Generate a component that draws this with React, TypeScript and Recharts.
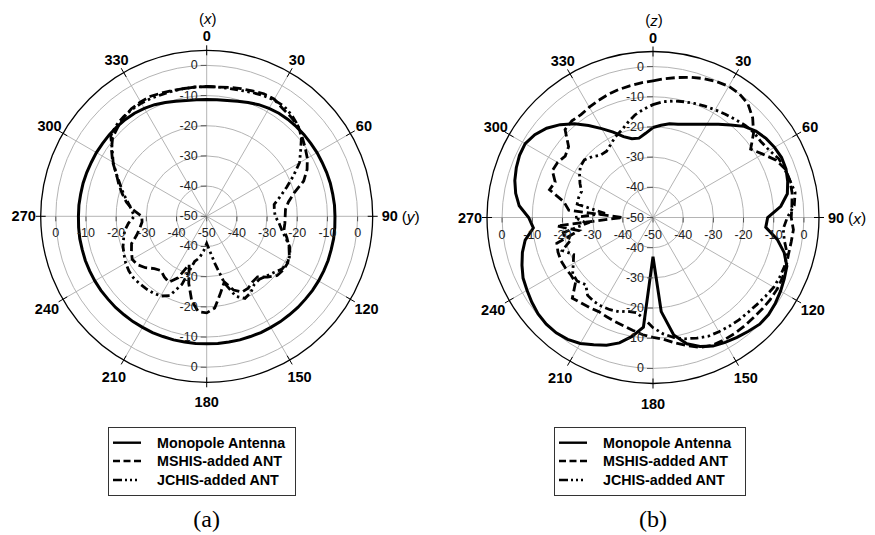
import React from 'react';
import { RadarChart, Radar, PolarGrid, PolarAngleAxis, PolarRadiusAxis, Legend } from 'recharts';

// Angle categories (degrees, clockwise from top)
const ANGLES = [
  0, 5, 10, 15, 20, 25, 30, 35, 40, 45, 50, 55,
  60, 65, 70, 75, 80, 85, 90, 95, 100, 105, 110, 115,
  120, 125, 130, 135, 140, 145, 150, 155, 160, 165, 170, 175,
  180, 185, 190, 195, 200, 205, 210, 215, 220, 225, 230, 235,
  240, 245, 250, 255, 260, 265, 270, 275, 280, 285, 290, 295,
  300, 305, 310, 315, 320, 325, 330, 335, 340, 345, 350, 355,
];

// (a) x-y plane
const A_MONO = [
  -11.3, -11.2, -11.0, -10.5, -9.9, -9.2, -8.7, -8.3, -8.1, -8.0, -7.9, -7.9,
  -7.8, -7.8, -7.7, -7.6, -7.6, -7.5, -7.5, -7.4, -7.3, -7.3, -7.2, -7.2,
  -7.2, -7.2, -7.3, -7.3, -7.4, -7.4, -7.5, -7.5, -7.6, -7.6, -7.7, -7.7,
  -7.8, -7.7, -7.7, -7.6, -7.6, -7.5, -7.5, -7.4, -7.4, -7.3, -7.3, -7.2,
  -7.2, -7.2, -7.2, -7.3, -7.3, -7.4, -7.5, -7.5, -7.6, -7.6, -7.7, -7.8,
  -7.8, -7.9, -7.9, -8.0, -8.1, -8.3, -8.7, -9.2, -9.9, -10.5, -11.0, -11.2,
];
const A_MSHIS = [
  -7.0, -7.0, -6.6, -6.2, -5.8, -5.2, -5.2, -6.3, -6.8, -7.4, -8.8, -10.2,
  -11.5, -13.3, -15.8, -20.0, -22.5, -23.8, -24.0, -24.0, -24.0, -22.5, -21.0, -19.8,
  -19.0, -19.0, -19.5, -21.5, -23.8, -23.5, -22.5, -22.3, -24.0, -27.5, -24.0, -19.5,
  -18.0, -18.3, -21.5, -27.0, -33.0, -27.5, -24.8, -25.5, -26.5, -25.5, -23.5, -22.0,
  -21.5, -22.5, -23.5, -26.0, -27.5, -28.5, -28.5, -25.5, -23.0, -21.0, -19.0, -17.0,
  -14.0, -11.5, -9.3, -8.3, -7.3, -6.5, -6.2, -6.1, -6.5, -6.8, -7.0, -7.0,
];
const A_JCHIS = [
  -7.0, -7.0, -7.0, -6.8, -6.3, -5.8, -5.5, -5.4, -6.2, -7.3, -9.0, -12.0,
  -14.5, -18.3, -21.8, -24.8, -27.3, -27.5, -27.3, -26.0, -24.8, -23.0, -20.8, -19.5,
  -19.2, -19.5, -21.0, -22.0, -22.8, -22.5, -20.8, -20.0, -21.8, -27.0, -34.0, -38.5,
  -41.0, -38.5, -36.0, -34.5, -26.0, -21.0, -19.5, -19.0, -18.7, -18.5, -18.3, -18.5,
  -19.0, -19.8, -20.5, -21.5, -22.4, -24.0, -26.0, -25.0, -23.5, -21.5, -19.5, -17.0,
  -14.2, -11.8, -8.5, -7.5, -7.0, -6.8, -6.7, -6.8, -7.0, -7.0, -7.0, -7.0,
];

// (b) x-z plane
const B_MONO = [
  -20.2, -19.3, -18.5, -18.0, -17.1, -15.9, -14.3, -12.3, -10.0, -7.3, -5.5, -4.3,
  -3.5, -3.0, -3.1, -3.8, -4.8, -7.5, -12.0, -12.5, -8.2, -5.0, -2.8, -2.0,
  -1.2, -0.5, 0.0, 0.0, -0.8, -1.5, -2.2, -3.0, -4.5, -6.7, -10.5, -18.7,
  -37.0, -13.5, -10.0, -7.0, -5.0, -3.5, -1.8, -0.7, -0.1, 0.0, -0.3, -1.0,
  -1.8, -2.5, -3.8, -5.2, -7.0, -10.2, -8.8, -5.5, -3.8, -2.6, -1.8, -1.2,
  -1.1, -2.2, -4.0, -6.5, -9.5, -12.8, -16.0, -18.8, -21.5, -23.0, -23.3, -22.0,
];
const B_MSHIS = [
  -4.7, -3.8, -2.9, -1.9, -1.0, -0.3, 0.2, 0.0, -1.0, -3.3, -6.5, -10.5,
  -8.0, -5.0, -3.3, -3.0, -3.2, -3.8, -4.2, -3.3, -3.5, -3.5, -3.0, -2.7,
  -2.5, -2.6, -2.8, -3.0, -3.0, -3.0, -3.1, -3.3, -4.2, -6.0, -7.8, -9.5,
  -10.3, -11.0, -12.0, -12.8, -13.3, -13.7, -14.0, -13.5, -13.0, -12.2, -16.5, -16.8,
  -16.5, -16.3, -16.5, -17.0, -25.0, -18.0, -40.0, -22.0, -20.0, -14.5, -15.5, -13.2,
  -13.5, -14.5, -13.5, -8.8, -8.2, -8.4, -7.8, -7.2, -6.6, -6.1, -5.7, -5.2,
];
const B_JCHIS = [
  -12.6, -11.5, -10.8, -10.3, -9.8, -9.3, -8.8, -8.2, -7.6, -6.8, -6.3, -6.3,
  -5.5, -4.0, -3.5, -3.0, -2.2, -3.0, -5.5, -6.7, -5.8, -4.0, -3.5, -3.6,
  -3.8, -4.5, -5.1, -5.5, -5.7, -6.0, -6.3, -6.6, -7.5, -8.4, -9.6, -11.3,
  -13.5, -16.3, -18.0, -17.8, -16.8, -16.3, -16.0, -16.0, -16.3, -18.5, -17.2, -17.5,
  -19.5, -21.0, -18.0, -22.0, -19.0, -28.0, -24.0, -34.0, -24.5, -24.5, -24.8, -23.3,
  -21.9, -20.6, -20.3, -21.5, -23.0, -23.2, -22.0, -20.5, -19.3, -17.5, -15.5, -14.0,
];

const RADIUS_TICKS = [-50, -40, -30, -20, -10, 0];
const RADIUS_DOMAIN = [-50, 5];
const ANGLE_LABELS = [0, 30, 60, 90, 120, 150, 180, 210, 240, 270, 300, 330];
const SPOKES = [0, 30, 60, 90, 120, 150, 180, 210, 240, 270, 300, 330];

const SERIES = [
  { key: 'mono', name: 'Monopole Antenna', dash: undefined as string | undefined, width: 3, legendDash: undefined as string | undefined },
  { key: 'mshis', name: 'MSHIS-added ANT', dash: '9 4', width: 2.8, legendDash: '7 3.5' },
  { key: 'jchis', name: 'JCHIS-added ANT', dash: '8 3.5 2.5 3.5 2.5 3.5', width: 2.8, legendDash: '9 3 2 3 2 3 2 30' },
];

const SANS = '"Liberation Sans", Arial, Helvetica, sans-serif';
const SERIF = '"Liberation Serif", "Times New Roman", serif';

function buildRows(mono: number[], mshis: number[], jchis: number[]) {
  return ANGLES.map((a, i) => ({ angle: a, mono: mono[i], mshis: mshis[i], jchis: jchis[i] }));
}

const ROWS_A = buildRows(A_MONO, A_MSHIS, A_JCHIS);
const ROWS_B = buildRows(B_MONO, B_MSHIS, B_JCHIS);

const OUTER = 166;

function LegendBox({ width }: { width: number }) {
  const rows = [15.7, 34, 53];
  return (
    <svg width={width} height={69} style={{ display: 'block' }}>
      <rect x={0.5} y={0.5} width={width - 1} height={68} fill="#fff" stroke="#333" strokeWidth={1} />
      {SERIES.map((s, i) => (
        <g key={s.key}>
          <line x1={5} x2={33} y1={rows[i]} y2={rows[i]} stroke="#000" strokeWidth={2.4} strokeDasharray={s.legendDash} />
          <text x={49} y={rows[i]} dominantBaseline="central" fontFamily={SANS} fontWeight="bold" fontSize={14.3} fill="#000">
            {s.name}
          </text>
        </g>
      ))}
    </svg>
  );
}

type PanelProps = {
  left: number;
  width: number;
  cx: number;
  cy: number;
  rows: any[];
  topAxis: string;
  rightAxis: string;
  legendLeft: number;
  legendWidth: number;
  caption: string;
};

function Panel({ left, width, cx, cy, rows, topAxis, rightAxis, legendLeft, legendWidth, caption }: PanelProps) {
  const angleTick = (props: any) => {
    const v = Number(props?.payload?.value);
    if (!ANGLE_LABELS.includes(v)) return <g />;
    const t = (v * Math.PI) / 180;
    const s = Math.sin(t);
    const c = Math.cos(t);
    const R = 183 - 3 * c;
    const lx = cx + R * s;
    const ly = cy - R * c;
    return (
      <g>
        <line x1={cx + (OUTER - 5) * s} y1={cy - (OUTER - 5) * c} x2={cx + (OUTER + 5) * s} y2={cy - (OUTER + 5) * c} stroke="#000" strokeWidth={1} />
        <text x={lx} y={ly} textAnchor="middle" dominantBaseline="central" fontFamily={SANS} fontWeight="bold" fontSize={14.5} fill="#000">
          {v}
        </text>
        {v === 0 && (
          <text x={lx + 1} y={ly - 18} textAnchor="middle" dominantBaseline="central" fontFamily={SANS} fontSize={15} fill="#000">
            (<tspan fontStyle="italic">{topAxis}</tspan>)
          </text>
        )}
        {v === 90 && (
          <text x={lx + 12} y={ly} textAnchor="start" dominantBaseline="central" fontFamily={SANS} fontSize={15.5} fill="#000">
            (<tspan fontStyle="italic">{rightAxis}</tspan>)
          </text>
        )}
      </g>
    );
  };

  const radiusTick = (props: any) => {
    const value = props?.payload?.value;
    const r = cy - Number(props.y);
    const label = String(value);
    const style = { fontFamily: SANS, fontSize: 12.5, fill: '#222' };
    return (
      <g>
        <line x1={cx - 6} x2={cx} y1={cy - r} y2={cy - r} stroke="#555" strokeWidth={1} />
        <text x={cx - 9} y={cy - r} textAnchor="end" dominantBaseline="central" {...style}>{label}</text>
        {r > 1 && (
          <>
            <line x1={cx - 6} x2={cx} y1={cy + r} y2={cy + r} stroke="#555" strokeWidth={1} />
            <text x={cx - 9} y={cy + r} textAnchor="end" dominantBaseline="central" {...style}>{label}</text>
            <line x1={cx + r} x2={cx + r} y1={cy} y2={cy + 5} stroke="#555" strokeWidth={1} />
            <text x={cx + r} y={cy + 17} textAnchor="middle" dominantBaseline="central" {...style}>{label}</text>
          </>
        )}
        <line x1={cx - r} x2={cx - r} y1={cy} y2={cy + 5} stroke="#555" strokeWidth={1} />
        <text x={cx - r} y={cy + 17} textAnchor="middle" dominantBaseline="central" {...style}>{label}</text>
      </g>
    );
  };

  return (
    <div style={{ position: 'absolute', left, top: 0, width, height: 535 }}>
      <RadarChart
        width={width}
        height={535}
        data={rows}
        cx={cx}
        cy={cy}
        innerRadius={0}
        outerRadius={OUTER}
        startAngle={90}
        endAngle={-270}
        margin={{ top: 0, right: 0, bottom: 0, left: 0 }}
      >
        <PolarGrid gridType="circle" polarAngles={SPOKES} stroke="#b4b4b4" strokeWidth={1} />
        <PolarAngleAxis
          dataKey="angle"
          type="category"
          tick={angleTick}
          tickLine={false}
          axisLine={{ stroke: '#000', strokeWidth: 1.3 }}
          axisLineType="circle"
        />
        <PolarRadiusAxis
          angle={90}
          type="number"
          domain={RADIUS_DOMAIN}
          allowDataOverflow
          ticks={RADIUS_TICKS as any}
          tickCount={6}
          tick={radiusTick}
          axisLine={false}
        />
        {SERIES.map((s) => (
          <Radar
            key={s.key}
            name={s.name}
            dataKey={s.key}
            stroke="#000"
            strokeWidth={s.width}
            strokeDasharray={s.dash}
            fill="none"
            fillOpacity={0}
            dot={false}
            isAnimationActive={false}
          />
        ))}
        <Legend
          content={() => <LegendBox width={legendWidth} />}
          wrapperStyle={{ position: 'absolute', left: legendLeft, top: 427, width: legendWidth, height: 69 }}
        />
      </RadarChart>
      <div
        style={{
          position: 'absolute',
          left: cx - 50,
          width: 100,
          top: 506,
          textAlign: 'center',
          fontFamily: SERIF,
          fontSize: 24,
          lineHeight: '26px',
          color: '#000',
        }}
      >
        {caption}
      </div>
    </div>
  );
}

export default function App() {
  return (
    <div style={{ position: 'absolute', left: 0, top: 0, width: 875, height: 535, background: '#fff', overflow: 'hidden' }}>
      <Panel left={0} width={437} cx={206.7} cy={216.3} rows={ROWS_A} topAxis="x" rightAxis="y" legendLeft={108} legendWidth={188} caption="(a)" />
      <Panel left={437} width={438} cx={216} cy={217.5} rows={ROWS_B} topAxis="z" rightAxis="x" legendLeft={117} legendWidth={192} caption="(b)" />
    </div>
  );
}
